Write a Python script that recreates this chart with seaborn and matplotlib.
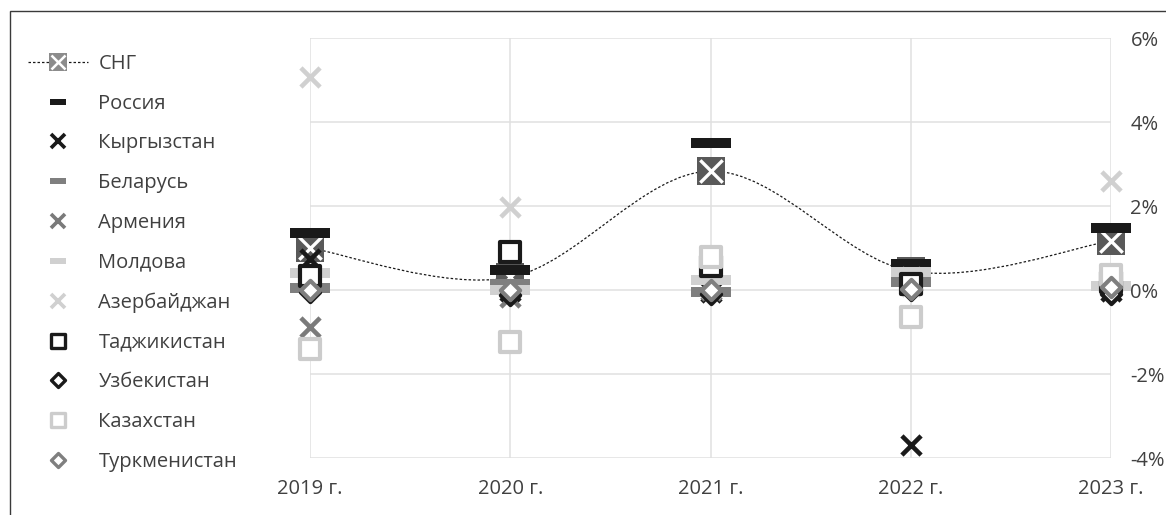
import numpy as np
import pandas as pd
import matplotlib
matplotlib.use('Agg')
import matplotlib.pyplot as plt
import seaborn as sns
from matplotlib.path import Path
from matplotlib.patches import PathPatch, Rectangle
from matplotlib.lines import Line2D
from matplotlib.markers import MarkerStyle

# values in %
years = ['2019 г.', '2020 г.', '2021 г.', '2022 г.', '2023 г.']
cis = [1.0, 0.3, 2.83, 0.45, 1.17]
russia = [1.35, 0.48, 3.5, 0.63, 1.47]
kyrgyzstan = [0.74, -0.02, -0.05, -3.7, -0.02]
belarus = [0.05, 0.15, -0.05, 0.2, 0.1]
armenia = [-0.88, -0.17, 0.0, 0.3, 0.38]
moldova = [0.4, 0.0, 0.24, 0.42, 0.1]
azerbaijan = [5.07, 1.98, 0.05, 0.1, 2.6]
tajikistan = [0.33, 0.9, 0.57, 0.14, 0.2]
uzbekistan = [-0.05, -0.12, -0.1, 0.0, -0.1]
kazakhstan = [-1.4, -1.24, 0.78, -0.65, 0.35]
turkmenistan = [0.0, 0.0, 0.0, 0.03, 0.07]

yticks = [-4, -2, 0, 2, 4, 6]

sns.set_theme(style='white')
plt.rcParams['font.family'] = ['Open Sans', 'DejaVu Sans']
text_col = '#404040'

fig = plt.figure(figsize=(11.66, 5.15), dpi=100)
ax = fig.add_axes([310 / 1166, 57 / 515, 801 / 1166, 420 / 515])

dash = np.array([(-1, -0.23), (1, -0.23), (1, 0.23), (-1, 0.23)])
dash_leg = np.array([(-1, -0.33), (1, -0.33), (1, 0.33), (-1, 0.33)])
sq = MarkerStyle('s', joinstyle='round')
dia = MarkerStyle('D', joinstyle='round')

# (name, values, marker, size, face, edge, lw)
series = [
    ('Россия', russia, dash, 830, '#1a1a1a', '#1a1a1a', 0),
    ('Кыргызстан', kyrgyzstan, 'x', 190, '#1a1a1a', None, 3.3),
    ('Беларусь', belarus, dash, 830, '#7f7f7f', '#7f7f7f', 0),
    ('Армения', armenia, 'x', 190, '#7a7a7a', None, 3.3),
    ('Молдова', moldova, dash, 830, '#d0d0d0', '#d0d0d0', 0),
    ('Азербайджан', azerbaijan, 'x', 190, '#d0d0d0', None, 3.3),
    ('Таджикистан', tajikistan, sq, 200, 'white', '#1a1a1a', 3),
    ('Узбекистан', uzbekistan, dia, 96, 'white', '#1a1a1a', 3),
    ('Казахстан', kazakhstan, sq, 200, 'white', '#cccccc', 3),
    ('Туркменистан', turkmenistan, dia, 96, 'white', '#7f7f7f', 3),
]

x = np.arange(len(years))

# СНГ: smoothed dotted line (Excel-style bezier through the points)
pts = np.column_stack([x, cis])
verts = [tuple(pts[0])]
codes = [Path.MOVETO]
n = len(pts)
for i in range(n - 1):
    p_prev = pts[max(i - 1, 0)]
    p_next2 = pts[min(i + 2, n - 1)]
    c1 = pts[i] + (pts[i + 1] - p_prev) / 6
    c2 = pts[i + 1] - (p_next2 - pts[i]) / 6
    verts += [tuple(c1), tuple(c2), tuple(pts[i + 1])]
    codes += [Path.CURVE4] * 3
ax.add_patch(PathPatch(Path(verts, codes), fill=False, edgecolor='#1a1a1a',
                       lw=0.9, linestyle=(0, (2, 1.6)), zorder=2, clip_on=False))

sns.scatterplot(x=x, y=cis, marker='s', s=430, color='#595959', edgecolor='#595959',
                linewidth=0, ax=ax, zorder=3, clip_on=False)
sns.scatterplot(x=x, y=cis, marker='x', s=260, color='white', linewidth=2.4,
                ax=ax, zorder=3.1, clip_on=False)

for k, (name, vals, mk, s, fc, ec, lw) in enumerate(series):
    z = 4 + k * 0.1
    if ec is None:
        sns.scatterplot(x=x, y=vals, marker=mk, s=s, color=fc, linewidth=lw,
                        ax=ax, zorder=z, clip_on=False)
    else:
        sns.scatterplot(x=x, y=vals, marker=mk, s=s, color=fc, edgecolor=ec,
                        linewidth=lw, ax=ax, zorder=z, clip_on=False)

ax.set_xlim(0, 4)
ax.set_ylim(-4, 6)
ax.set_xticks(x)
ax.set_xticklabels(years)
ax.set_yticks(yticks)
ax.set_yticklabels([f'{v}%' for v in yticks])
ax.yaxis.tick_right()
ax.tick_params(axis='both', length=0, labelsize=14.5, colors=text_col)
ax.tick_params(axis='y', pad=14)
ax.tick_params(axis='x', pad=15)
ax.grid(True, color='#e0e0e0', lw=1.1)
for sp in ax.spines.values():
    sp.set_visible(False)
ax.set_axisbelow(True)

# legend
sc = 0.7
handles = [(Line2D([], [], color='#1a1a1a', lw=0.9, linestyle=(0, (2, 1.6)),
                   marker='s', markersize=np.sqrt(430) * 0.62, markerfacecolor='#8c8c8c',
                   markeredgewidth=0),
            Line2D([], [], lw=0, marker='x', markersize=np.sqrt(260) * 0.62,
                   color='white', markeredgewidth=1.8))]
for name, vals, mk, s, fc, ec, lw in series:
    if isinstance(mk, np.ndarray):
        h = Line2D([], [], lw=0, marker=dash_leg, markersize=11, color=fc,
                   markeredgewidth=0)
    elif ec is None:
        h = Line2D([], [], lw=0, marker=mk, markersize=np.sqrt(s) * sc, color=fc,
                   markeredgewidth=lw * 0.8)
    else:
        h = Line2D([], [], lw=0, marker=mk, markersize=np.sqrt(s) * sc,
                   markerfacecolor=fc, markeredgecolor=ec, markeredgewidth=lw * 0.8)
    handles.append(h)
labels = ['СНГ'] + [sr[0] for sr in series]
fig.legend(handles, labels, loc='upper left', bbox_to_anchor=(28 / 1166, 1 - 54 / 515),
           frameon=False, fontsize=14.5, handlelength=3.0, handletextpad=0.5,
           labelspacing=0.98, borderpad=0, borderaxespad=0, labelcolor=text_col)

fig.patches.append(Rectangle((10 / 1166, -0.1), 1.2, 1.1 - 11 / 515, transform=fig.transFigure,
                             fill=False, edgecolor='#3a3a3a', lw=1))

fig.savefig('out.png', dpi=100)
